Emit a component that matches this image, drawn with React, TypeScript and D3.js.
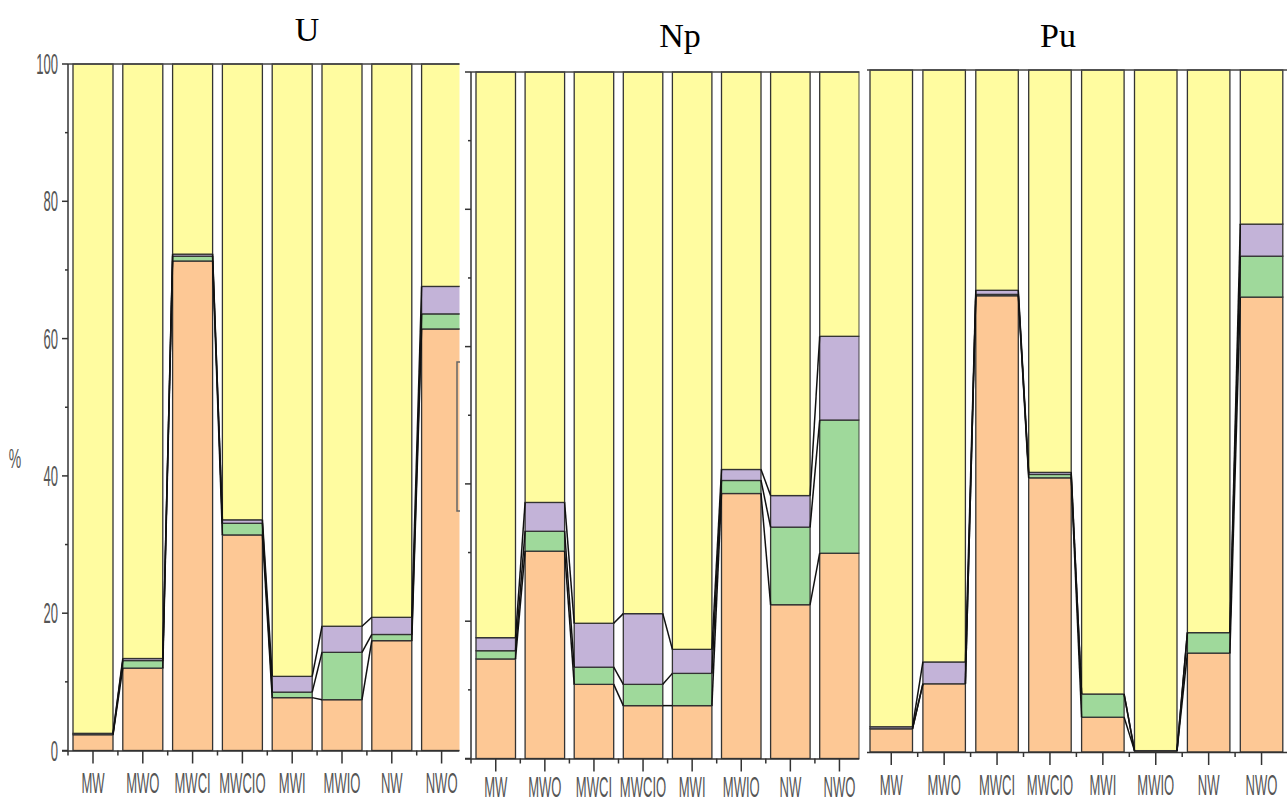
import React from 'react';
import * as d3 from 'd3';

// categories on the x axis (same for the three panels)
const categories = ['MW', 'MWO', 'MWCI', 'MWCIO', 'MWI', 'MWIO', 'NW', 'NWO'];
const keys = ['orange', 'green', 'purple', 'yellow'];
const yTicks = [0, 20, 40, 60, 80, 100];
const yMinorTicks = [10, 30, 50, 70, 90];

// U
const uOrange = [2.3, 12.0, 71.3, 31.4, 7.7, 7.4, 16.0, 61.4];
const uGreen = [0.0, 1.1, 0.7, 1.7, 0.8, 6.9, 0.9, 2.2];
const uPurple = [0.2, 0.3, 0.3, 0.5, 2.3, 3.8, 2.5, 4.0];
const uYellow = [97.5, 86.6, 27.7, 66.4, 89.2, 81.9, 80.6, 32.4];

// Np
const npOrange = [14.5, 30.2, 10.8, 7.7, 7.7, 38.6, 22.4, 29.9];
const npGreen = [1.2, 2.9, 2.5, 3.1, 4.7, 1.9, 11.3, 19.4];
const npPurple = [1.9, 4.2, 6.4, 10.3, 3.5, 1.6, 4.6, 12.2];
const npYellow = [82.4, 62.7, 80.3, 78.9, 84.1, 57.9, 61.7, 38.5];

// Pu
const puOrange = [3.4, 10.0, 66.9, 40.2, 5.1, 0.2, 14.5, 66.7];
const puGreen = [0.0, 0.0, 0.2, 0.5, 3.4, 0.0, 3.0, 6.0];
const puPurple = [0.3, 3.2, 0.6, 0.3, 0.0, 0.0, 0.0, 4.7];
const puYellow = [96.3, 86.8, 32.3, 59.0, 91.5, 99.8, 82.5, 22.6];

const colors = {
  orange: '#fdc895',
  green: '#9fd99b',
  purple: '#c3b3d8',
  yellow: '#fffca0'
};

const makeRows = (o, g, p, yl) =>
  categories.map((c, i) => ({ cat: c, orange: o[i], green: g[i], purple: p[i], yellow: yl[i] }));

const panels = [
  {
    id: 'u', title: 'U', rows: makeRows(uOrange, uGreen, uPurple, uYellow),
    axisX: 68, firstBar: 73, step: 49.8, barW: 40, y0: 750.5, y100: 64,
    clipL: 0, clipR: 459.5, titleX: 307, titleY: 41, labelY: 793, yAxis: true, yLabels: true
  },
  {
    id: 'np', title: 'Np', rows: makeRows(npOrange, npGreen, npPurple, npYellow),
    axisX: 471, firstBar: 476, step: 49.1, barW: 39.5, y0: 758.5, y100: 72,
    clipL: 462, clipR: 859.5, titleX: 680, titleY: 47, labelY: 797, yAxis: true, yLabels: false
  },
  {
    id: 'pu', title: 'Pu', rows: makeRows(puOrange, puGreen, puPurple, puYellow),
    axisX: 865, firstBar: 870, step: 52.9, barW: 42.5, y0: 752, y100: 70,
    clipL: 867, clipR: 1287, titleX: 1058, titleY: 47, labelY: 795, yAxis: false, yLabels: false
  }
];

const labelFont = "'Liberation Sans', Arial, sans-serif";

const Panel = ({ p }) => {
  const n = categories.length;
  const inner = 1 - p.barW / p.step;
  const outer = (p.firstBar - p.axisX) / p.step;
  const x = d3
    .scaleBand()
    .domain(categories)
    .range([p.axisX, p.axisX + p.step * (n - inner + 2 * outer)])
    .paddingInner(inner)
    .paddingOuter(outer);
  const y = d3.scaleLinear().domain([0, 100]).range([p.y0, p.y100]);
  const bw = x.bandwidth();
  const series = d3.stack().keys(keys)(p.rows);

  // connector lines between neighbouring bars at each stack boundary
  const connectors = [];
  series.slice(0, 3).forEach((s, k) => {
    for (let i = 0; i < n - 1; i++) {
      connectors.push({
        key: k + '-' + i,
        x1: x(categories[i]) + bw,
        y1: y(s[i][1]),
        x2: x(categories[i + 1]),
        y2: y(s[i + 1][1])
      });
    }
  });

  const gapTicks = categories.slice(0, n - 1).map(c => x(c) + bw + (x.step() - bw) / 2);

  return (
    <g>
      <defs>
        <clipPath id={'clip-' + p.id}>
          <rect x={p.clipL} y={0} width={p.clipR - p.clipL} height={805} />
        </clipPath>
      </defs>
      <g clipPath={`url(#clip-${p.id})`}>
        {series.map(s => (
          <g key={s.key}>
            {s.map((d, i) => (
              <rect
                key={i}
                x={x(categories[i])}
                y={y(d[1])}
                width={bw}
                height={Math.max(0, y(d[0]) - y(d[1]))}
                fill={colors[s.key]}
                stroke="#333"
                strokeWidth={1.3}
              />
            ))}
          </g>
        ))}
        {connectors.map(c => (
          <line key={c.key} x1={c.x1} y1={c.y1} x2={c.x2} y2={c.y2} stroke="#111" strokeWidth={1.5} />
        ))}
        {/* top frame */}
        <line x1={p.axisX} x2={p.clipR} y1={p.y100} y2={p.y100} stroke="#444" strokeWidth={1.5} />
        {/* x axis */}
        <line x1={p.axisX - 6} x2={p.clipR} y1={p.y0 + 0.5} y2={p.y0 + 0.5} stroke="#333" strokeWidth={1.5} />
        {categories.map(c => (
          <line key={c} x1={x(c) + bw / 2} x2={x(c) + bw / 2} y1={p.y0} y2={p.y0 + 13} stroke="#333" strokeWidth={1.5} />
        ))}
        {[p.axisX, ...gapTicks].map((t, i) => (
          <line key={i} x1={t} x2={t} y1={p.y0} y2={p.y0 + 5} stroke="#333" strokeWidth={1.5} />
        ))}
        {categories.map(c => (
          <text
            key={c}
            transform={`translate(${x(c) + bw / 2},${p.labelY}) scale(0.45,1)`}
            textAnchor="middle"
            fontFamily={labelFont}
            fontSize={29}
            fill="#555"
          >
            {c}
          </text>
        ))}
        {p.yAxis && (
          <g>
            <line x1={p.axisX} x2={p.axisX} y1={p.y100} y2={p.y0} stroke="#333" strokeWidth={1.5} />
            {yTicks.map(t => (
              <line key={t} x1={p.axisX - 6} x2={p.axisX} y1={y(t)} y2={y(t)} stroke="#333" strokeWidth={1.5} />
            ))}
            {yMinorTicks.map(t => (
              <line key={t} x1={p.axisX - 3} x2={p.axisX} y1={y(t)} y2={y(t)} stroke="#333" strokeWidth={1.5} />
            ))}
          </g>
        )}
        {p.yLabels &&
          yTicks.map(t => (
            <text
              key={t}
              transform={`translate(${p.axisX - 10},${y(t) + 10}) scale(0.45,1)`}
              textAnchor="end"
              fontFamily={labelFont}
              fontSize={29}
              fill="#555"
            >
              {t}
            </text>
          ))}
      </g>
      <text
        x={p.titleX}
        y={p.titleY}
        textAnchor="middle"
        fontFamily="'Liberation Serif', 'Times New Roman', serif"
        fontSize={34}
        fill="#000"
      >
        {p.title}
      </text>
    </g>
  );
};

export default function App() {
  return (
    <svg
      width={1287}
      height={805}
      style={{ position: 'absolute', left: 0, top: 0, background: '#fff' }}
    >
      {panels.map(p => (
        <Panel key={p.id} p={p} />
      ))}
      <text
        transform="translate(15,468) scale(0.5,1)"
        textAnchor="middle"
        fontFamily={labelFont}
        fontSize={28}
        fill="#555"
      >
        %
      </text>
      {/* stray frame piece at the right edge of the U panel */}
      <path d="M460,362 H457 V511 H460" fill="none" stroke="#666" strokeWidth={1.5} />
    </svg>
  );
}
